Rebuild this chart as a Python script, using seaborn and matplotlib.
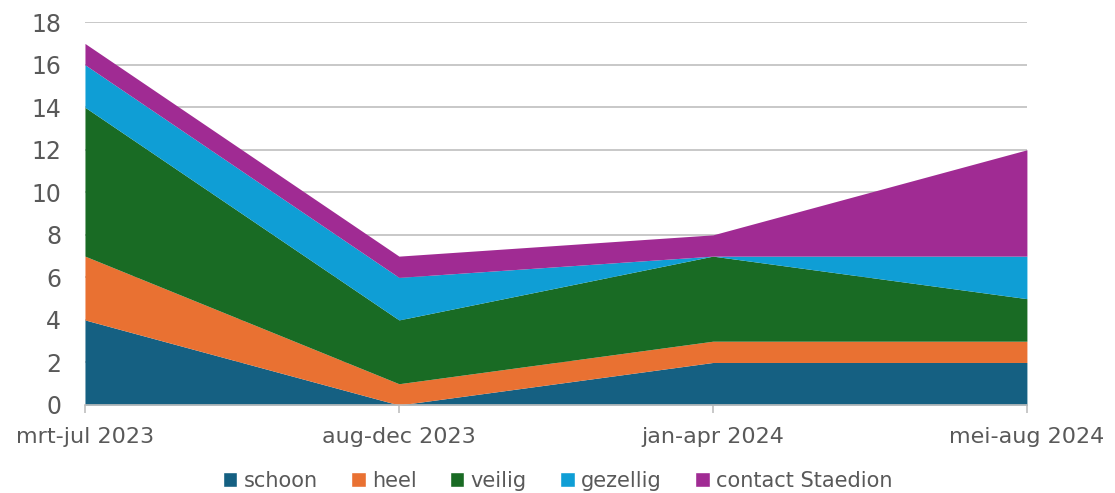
import pandas as pd
import seaborn as sns
import matplotlib.pyplot as plt
from matplotlib.patches import Patch

periods = ['mrt-jul 2023', 'aug-dec 2023', 'jan-apr 2024', 'mei-aug 2024']
schoon = [4, 0, 2, 2]
heel = [3, 1, 1, 1]
veilig = [7, 3, 4, 2]
gezellig = [2, 2, 0, 2]
contact = [1, 1, 1, 5]

series = ['schoon', 'heel', 'veilig', 'gezellig', 'contact Staedion']
colors = ['#156082', '#E97132', '#196B24', '#0F9ED5', '#A02B93']

df = pd.DataFrame({'schoon': schoon, 'heel': heel, 'veilig': veilig,
                   'gezellig': gezellig, 'contact Staedion': contact}, index=periods)

sns.set_theme(style='white')
plt.rcParams['font.family'] = ['DejaVu Sans']

fig = plt.figure(figsize=(11.15, 4.93), dpi=100)
ax = fig.add_axes([0.0762, 0.1785, 0.8448, 0.7765])

x = list(range(len(periods)))
ax.stackplot(x, [df[s] for s in series], colors=colors, linewidth=0)

ax.set_xlim(0, len(periods) - 1)
ax.set_ylim(0, 18)
ax.set_yticks(range(0, 19, 2))
ax.set_xticks(x)
ax.set_xticklabels(periods)
ax.yaxis.grid(True, color='#BFBFBF', linewidth=1.2)
ax.set_axisbelow(True)
for side in ['left', 'right', 'top']:
    ax.spines[side].set_visible(False)
ax.spines['bottom'].set_color('#BFBFBF')
ax.spines['bottom'].set_linewidth(1.2)
ax.tick_params(axis='x', colors='#595959', labelsize=16, length=6, width=1.2,
               color='#BFBFBF', pad=10, bottom=True)
ax.tick_params(axis='y', colors='#595959', labelsize=17, length=0, pad=17)

handles = [Patch(facecolor=c, label=s) for s, c in zip(series, colors)]
leg = fig.legend(handles=handles, loc='center', bbox_to_anchor=(0.5, 0.025),
                 ncol=5, frameon=False, fontsize=15, handlelength=0.7,
                 handleheight=0.7, handletextpad=0.3, columnspacing=1.6)
for t in leg.get_texts():
    t.set_color('#595959')

fig.savefig('out.png', dpi=100)
